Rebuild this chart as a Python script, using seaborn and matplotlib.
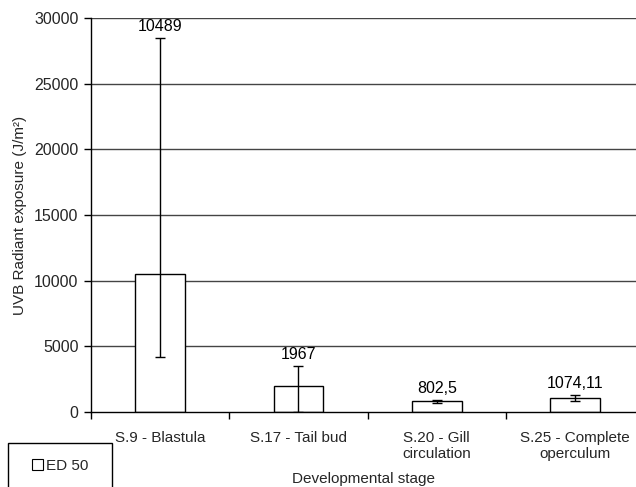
import numpy as np
import pandas as pd
import seaborn as sns
import matplotlib
matplotlib.use("Agg")
import matplotlib.pyplot as plt
from matplotlib.patches import Rectangle, Patch
from matplotlib.ticker import FixedLocator

# ---- data ----
stages = ["S.9 - Blastula", "S.17 - Tail bud", "S.20 - Gill\ncirculation", "S.25 - Complete\noperculum"]
ed50 = [10489, 1967, 802.5, 1074.11]
err_low = [6300, 1967, 110, 230]
err_high = [17990, 1560, 110, 230]
value_labels = ["10489", "1967", "802,5", "1074,11"]
yticks = [0, 5000, 10000, 15000, 20000, 25000, 30000]

sns.set_theme(style="white")
plt.rcParams['font.family'] = ['Liberation Sans', 'DejaVu Sans']

df = pd.DataFrame({"stage": stages, "ed50": ed50})

fig = plt.figure(figsize=(6.36, 4.87), dpi=100)
ax = fig.add_axes([91/636, 1 - 412/487, 1 - 91/636, (412 - 18)/487])

ax.set_axisbelow(True)
for yv in yticks[1:]:
    ax.axhline(yv, color="#444444", lw=1.0, zorder=0)

sns.barplot(data=df, x="stage", y="ed50", color="white", edgecolor="black",
            linewidth=1.0, width=0.36, errorbar=None, ax=ax, zorder=2)

x = np.arange(len(stages))
ax.errorbar(x, ed50, yerr=[err_low, err_high], fmt="none", ecolor="black",
            elinewidth=1.0, capsize=3.5, capthick=1.0, zorder=3)

for xi, v, eh, lab in zip(x, ed50, err_high, value_labels):
    ax.annotate(lab, (xi, v + eh), xytext=(0, 3), textcoords="offset points",
                ha="center", va="bottom", fontsize=11.5, color="black")

ax.set_ylim(0, 30000)
ax.set_xlim(-0.5, 3.44)
ax.set_yticks(yticks)
ax.set_yticklabels([str(t) for t in yticks], fontsize=11.5)
ax.set_xticks(x)
ax.set_xticklabels(stages, fontsize=11, linespacing=1.15)
ax.xaxis.set_minor_locator(FixedLocator([-0.5, 0.5, 1.5, 2.5]))
ax.tick_params(axis="x", which="major", length=0, pad=14)
ax.tick_params(axis="x", which="minor", length=5, width=1, color="black", direction="out", bottom=True)
ax.tick_params(axis="y", length=5, width=1, color="black", direction="out", left=True, pad=4)

for s in ["top", "right"]:
    ax.spines[s].set_visible(False)
for s in ["left", "bottom"]:
    ax.spines[s].set_color("black")
    ax.spines[s].set_linewidth(1.0)

ax.set_ylabel("UVB Radiant exposure (J/m²)", fontsize=11, labelpad=5)
ax.set_xlabel("")
fig.text(363/636, 1 - 479/487, "Developmental stage", ha="center", va="center", fontsize=11)

# legend box
fig.patches.append(Rectangle((8/636, -0.05), 104/636, (487 - 443)/487 + 0.05,
                             transform=fig.transFigure, facecolor="white",
                             edgecolor="black", lw=1.0))
handle = Patch(facecolor="white", edgecolor="black", linewidth=0.8)
fig.legend([handle], ["ED 50"], loc="center", bbox_to_anchor=(60/636, 1 - 466/487),
           frameon=False, fontsize=11, handlelength=0.7, handleheight=0.7,
           handletextpad=0.2)

fig.savefig("out.png", dpi=100, facecolor="white")
